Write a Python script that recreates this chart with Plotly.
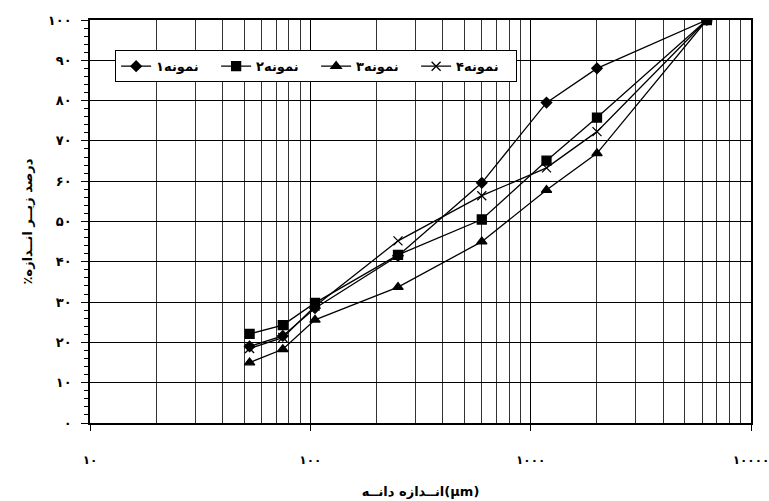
import plotly.graph_objects as go

sizes = [53, 75, 105, 250, 600, 1180, 2000, 6300]
s1 = [19.0, 21.6, 28.5, 41.5, 59.6, 79.5, 88.0, 100]
s2 = [22.1, 24.3, 29.8, 41.7, 50.5, 65.1, 75.8, 100]
s3 = [15.0, 18.3, 25.6, 33.7, 45.0, 57.8, 66.9, 100]
s4 = [18.5, 21.2, 29.0, 45.2, 56.4, 63.3, 72.3, 100]
names = ["نمونه۱", "نمونه۲", "نمونه۳", "نمونه۴"]
symbols = ["diamond", "square", "triangle-up", "x-thin-open"]
msizes = [8, 9, 9, 9]

x_tickvals = [10, 100, 1000, 10000]
x_ticktext = ["۱۰", "۱۰۰", "۱۰۰۰", "۱۰۰۰۰"]
y_tickvals = [0, 10, 20, 30, 40, 50, 60, 70, 80, 90, 100]
y_ticktext = ["۰", "۱۰", "۲۰", "۳۰", "۴۰", "۵۰", "۶۰", "۷۰", "۸۰", "۹۰", "۱۰۰"]

FONT = "DejaVu Sans"

fig = go.Figure()
for name, ys, sym, ms in zip(names, [s1, s2, s3, s4], symbols, msizes):
    fig.add_trace(go.Scatter(
        x=sizes, y=ys, name="<b>" + name + "</b>", mode="lines+markers",
        line=dict(color="black", width=1.3),
        marker=dict(symbol=sym, size=ms, color="black",
                    line=dict(color="black", width=1.3)),
    ))

minor_x = [m * 10 ** d for d in range(1, 4) for m in range(2, 10)]

fig.update_layout(
    width=769, height=501,
    margin=dict(l=90, r=18, t=20, b=78),
    paper_bgcolor="white", plot_bgcolor="white",
    font=dict(family=FONT, size=12, color="black"),
    showlegend=True,
    legend=dict(orientation="h", x=0.038, y=0.925, xanchor="left", yanchor="top",
                bgcolor="white", bordercolor="black", borderwidth=1,
                font=dict(family=FONT, size=13, color="black"),
                itemwidth=30, tracegroupgap=0,
                entrywidth=55, entrywidthmode="pixels"),
    xaxis=dict(
        type="log", range=[1, 4], automargin=False,
        tickmode="array", tickvals=x_tickvals, ticktext=["<b>" + t + "</b>" for t in x_ticktext],
        ticks="outside", ticklen=6, tickcolor="black", tickwidth=1,
        showgrid=True, gridcolor="black", gridwidth=1,
        minor=dict(tickmode="array", tickvals=minor_x, showgrid=True,
                   gridcolor="#333333", gridwidth=1, ticks=""),
        showline=True, linecolor="black", linewidth=1.5, mirror=True,
        ticklabelstandoff=19, ticklabeloverflow="allow",
        tickfont=dict(family=FONT, size=12, color="black"),
        title=dict(text="<b>انــدازه دانــه(µm)</b>", standoff=21,
                   font=dict(family=FONT, size=13, color="black")),
        zeroline=False,
    ),
    yaxis=dict(
        range=[0, 100], automargin=False,
        tickmode="array", tickvals=y_tickvals, ticktext=["<b>" + t + "</b>" for t in y_ticktext],
        ticks="outside", ticklen=7, tickcolor="black", tickwidth=1,
        showgrid=True, gridcolor="black", gridwidth=1,
        minor=dict(dtick=2, ticks="outside", ticklen=4, tickcolor="black", showgrid=False),
        showline=True, linecolor="black", linewidth=1.5, mirror=True,
        ticklabelstandoff=7,
        tickfont=dict(family=FONT, size=13, color="black"),
        title=dict(text="<b>درصد زیــر انــدازه٪\u200f</b>", standoff=12,
                   font=dict(family=FONT, size=13, color="black")),
        zeroline=False,
    ),
)

fig.write_html("out.html")
